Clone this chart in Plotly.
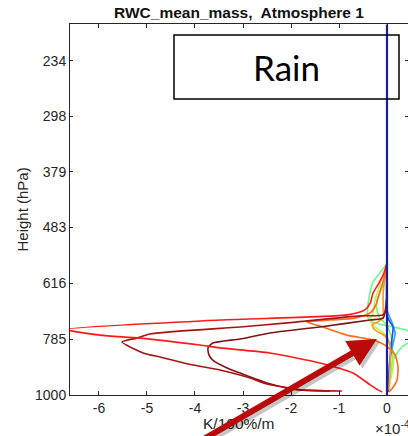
import plotly.graph_objects as go

# ---------------- data (x in units of 1e-4 K/100%/m, pressure in hPa) ----------------
red_x = [0, -0.08, -0.19, -0.29, -0.35, -0.46, -0.83, -3.48, -6.7, -5.98, -5.15, -3.90, -3.48,
         -2.44, -1.40, -0.71, -0.35, -0.19, -0.10]
red_p = [564, 594, 620, 642, 671, 691, 706, 722, 752, 771, 781, 805, 815,
         833, 870, 909, 957, 978, 987]

maroon_b_x = [0, -0.02, -0.08, -0.56, -2.08, -3.06, -4.94, -5.21, -5.52, -5.08, -4.73, -4.04,
              -3.48, -2.85, -2.58, -2.17, -1.81, -0.94]
maroon_b_p = [634, 690, 706, 709, 731, 744, 767, 781, 794, 833, 848, 878,
              897, 929, 949, 966, 978, 983]

maroon_c_x = [0, -0.04, -0.08, -0.35, -1.40, -2.44, -3.06, -3.63, -3.73, -3.71, -3.63, -3.33,
              -3.06, -2.50, -2.08, -1.81, -1.19]
maroon_c_p = [648, 697, 716, 722, 744, 764, 784, 798, 815, 840, 859, 889,
              909, 949, 970, 978, 983]

dkorange_x = [0, -0.06, -0.15, -0.23, -0.35, -0.67, -1.19, -1.67, -1.40, -0.83, -0.29, -0.04,
              0.08, 0.17, 0.23, 0.21, 0.10, 0.04]
dkorange_p = [564, 602, 639, 676, 700, 716, 722, 728, 741, 771, 787, 805,
              822, 840, 885, 937, 974, 987]

orange_x = [0, -0.04, -0.08, -0.08, -0.08, -0.19, -0.31, -0.25, -0.04, 0.06, 0.06, 0.04]
orange_p = [564, 599, 642, 682, 713, 728, 738, 754, 774, 805, 897, 978]

ltgreen_x = [0, -0.10, -0.29, -0.35, -0.40, -0.40, -0.31, -0.08, 0.125, 0.44, 0.58, 0.31,
             0.125, 0.06, 0.02]
ltgreen_p = [564, 581, 612, 639, 682, 713, 728, 738, 744, 757, 781, 812,
             859, 925, 987]

ygreen_x = [0, -0.15, -0.25, -0.29, -0.35, -0.27, -0.10, 0.02, 0.125, 0.125, 0.06, 0.02]
ygreen_p = [564, 620, 662, 700, 722, 741, 761, 781, 822, 885, 949, 987]

green_x = [0, -0.08, -0.21, -0.21, -0.15, 0, 0.10, 0.10, 0.02]
green_p = [564, 620, 662, 691, 716, 738, 787, 897, 987]

ltblue_x = [0, 0, 0.10, 0.17, 0.12, 0.06, 0.02]
ltblue_p = [564, 691, 728, 764, 805, 859, 987]

blue_x = [0, 0, 0.02, 0.06, 0.125, 0.10, 0.06, 0.02]
blue_p = [564, 700, 716, 728, 744, 787, 859, 987]

dkblue_x = [0, 0]
dkblue_p = [200, 1000]

y_ticks = [234, 298, 379, 483, 616, 785, 1000]
x_ticks = [-6, -5, -4, -3, -2, -1, 0]
x_ticktext = ["-6", "-5", "-4", "-3", "-2", "-1", "0"]

series = [
    (ltgreen_x, ltgreen_p, "#6cf58c"),
    (green_x, green_p, "#8ff25a"),
    (ygreen_x, ygreen_p, "#c2f24a"),
    (ltblue_x, ltblue_p, "#1ea5ff"),
    (blue_x, blue_p, "#1450ff"),
    (orange_x, orange_p, "#ff9a1a"),
    (dkorange_x, dkorange_p, "#ff6a14"),
    (maroon_c_x, maroon_c_p, "#7e1414"),
    (maroon_b_x, maroon_b_p, "#a81414"),
    (red_x, red_p, "#ff1a1a"),
    (dkblue_x, dkblue_p, "#1c1caa"),
]

fig = go.Figure()
for xs, ps, col in series:
    w = 2.2 if col == "#1c1caa" else 1.6
    fig.add_trace(go.Scatter(x=xs, y=ps, mode="lines",
                             line=dict(color=col, width=w, shape="spline", smoothing=0.6),
                             showlegend=False, hoverinfo="skip"))

axis_col = "#262626"
font_main = "Liberation Sans, Arial, sans-serif"

fig.update_layout(
    width=408, height=436,
    margin=dict(l=70, r=0, t=24, b=41),
    paper_bgcolor="white", plot_bgcolor="white",
    title=dict(text="<b>RWC_mean_mass,  Atmosphere 1</b>", x=0.5, xref="paper",
               y=1 - 13 / 436, yref="container", xanchor="center", yanchor="middle",
               font=dict(family=font_main, size=15.5, color="#111111")),
    xaxis=dict(range=[-6.604, 0.4375], tickvals=x_ticks, ticktext=x_ticktext,
               ticks="inside", ticklen=4, tickcolor=axis_col, showline=True,
               linecolor=axis_col, linewidth=1, mirror="ticks", showgrid=False,
               zeroline=False, tickfont=dict(family=font_main, size=14, color=axis_col)),
    yaxis=dict(type="log", range=[3, 2.3], tickvals=y_ticks,
               ticktext=[str(v) for v in y_ticks],
               ticks="inside", ticklen=3, tickcolor=axis_col, showline=True,
               linecolor=axis_col, linewidth=1, mirror="ticks", showgrid=False,
               zeroline=False, tickfont=dict(family=font_main, size=14, color=axis_col)),
)

pw, ph = 338.0, 371.0
annotations = [
    dict(text="Height (hPa)", x=(22 - 70) / pw, y=0.5, xref="paper", yref="paper",
         textangle=-90, showarrow=False, xanchor="center", yanchor="middle",
         font=dict(family=font_main, size=15, color=axis_col)),
    dict(text="K/100%/m", x=0.5, y=(395 - 423) / ph, xref="paper", yref="paper",
         showarrow=False, xanchor="center", yanchor="middle",
         font=dict(family=font_main, size=15.5, color=axis_col)),
    dict(text="×10<sup>-4</sup>", x=(373 - 70) / pw, y=(395 - 428) / ph, xref="paper",
         yref="paper", showarrow=False, xanchor="left", yanchor="middle",
         font=dict(family=font_main, size=15, color=axis_col)),
    dict(text="Rain", x=(286.5 - 70) / pw, y=(395 - 67) / ph, xref="paper", yref="paper",
         showarrow=False, xanchor="center", yanchor="middle",
         font=dict(family="Lato, sans-serif", size=35, color="black")),
]
# arrow shadow and arrow (tail given in axis-domain coordinates)
tipx, tipy = (377 - 70) / pw, (395 - 339) / ph
tailx, taily = (190 - 70) / pw, (395 - 447) / ph
for dx, dy, col in [(3, 3, "rgba(0,0,0,0.22)"), (0, 0, "#bb0a0a")]:
    annotations.append(dict(text="", x=tipx + dx / pw, y=tipy - dy / ph,
                            xref="x domain", yref="y domain",
                            showarrow=True, ax=tailx + dx / pw, ay=taily - dy / ph,
                            axref="x domain", ayref="y domain", arrowhead=2, arrowwidth=6,
                            arrowsize=0.95, arrowcolor=col, standoff=0))
fig.update_layout(annotations=annotations)

fig.add_shape(type="rect", xref="paper", yref="paper",
              x0=(174 - 70) / pw, x1=(399 - 70) / pw,
              y0=(395 - 99) / ph, y1=(395 - 35) / ph,
              line=dict(color="black", width=1.5), fillcolor="rgba(255,255,255,0)")

fig.write_html("out.html")
